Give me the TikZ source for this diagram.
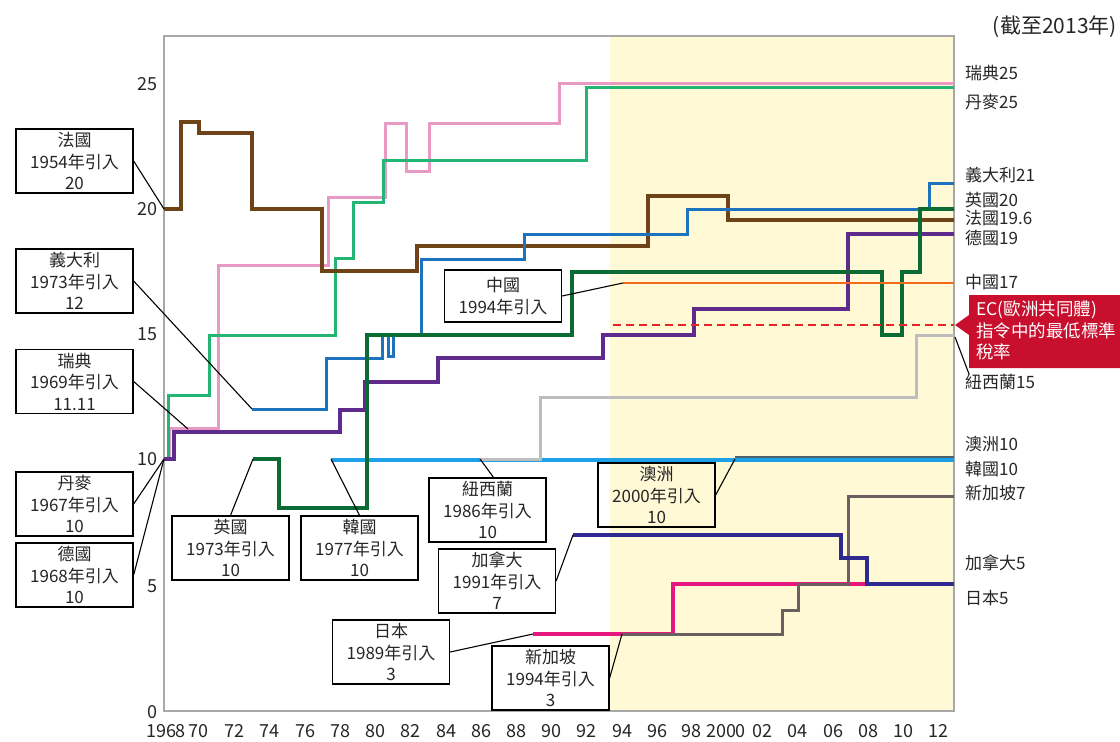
\documentclass[tikz,border=0pt]{standalone}
\usepackage{fontspec}
\setmainfont{Noto Sans CJK TC}
\definecolor{txt}{HTML}{262626}
\definecolor{framegray}{HTML}{A8A8A8}
\definecolor{yellowbg}{HTML}{FFF9D6}
\definecolor{cfr}{HTML}{6E4317}
\definecolor{cit}{HTML}{1E73BE}
\definecolor{cuk}{HTML}{0B6B34}
\definecolor{cde}{HTML}{5E2A8C}
\definecolor{cse}{HTML}{E89AC4}
\definecolor{cdk}{HTML}{22B573}
\definecolor{ccn}{HTML}{F26B1D}
\definecolor{cec}{HTML}{E3262A}
\definecolor{cnz}{HTML}{BDBDBD}
\definecolor{ckr}{HTML}{1EA0E6}
\definecolor{cau}{HTML}{4F6272}
\definecolor{cca}{HTML}{2E2A8F}
\definecolor{cjp}{HTML}{E6177F}
\definecolor{csg}{HTML}{6A6060}
\definecolor{ecred}{HTML}{C8102E}
\begin{document}
\begin{tikzpicture}[x=1pt,y=-1pt,
  ser/.style={line join=miter, line cap=butt},
  cbox/.style={draw=black, line width=1.3pt, fill=white, minimum width=117pt, minimum height=64pt, inner sep=0pt, align=center, font=\fontsize{17}{21.5}\selectfont, text=txt},
  conn/.style={draw=black, line width=1.1pt},
  rlab/.style={anchor=west, font=\fontsize{17}{20}\selectfont, text=txt, inner sep=0pt},
  ytk/.style={anchor=east, font=\fontsize{18}{20}\selectfont, text=txt, inner sep=0pt},
  xtk/.style={anchor=center, font=\fontsize{18}{20}\selectfont, text=txt, inner sep=0pt}]
\useasboundingbox (0,0) rectangle (1120,742);
% shaded region and frame
\fill[yellowbg] (610,36) rectangle (954,711);
\draw[framegray, line width=1.5pt] (164,36) rectangle (954,711);
% axis labels
\node[ytk] (y25) at (158,84) {25};
\node[ytk] (y20) at (158,209) {20};
\node[ytk] (y15) at (158,334) {15};
\node[ytk] (y10) at (158,459) {10};
\node[ytk] (y5) at (158,586) {5};
\node[ytk] (y0) at (158,712) {0};
\foreach \x/\t [count=\i] in {166/1968,198/70,234/72,269/74,305/76,340/78,375/80,410/82,446/84,481/86,516/88,551/90,586/92,622/94,657/96,691/98,726/2000,762/02,797/04,833/06,868/08,903/10,938/12}
  \node[xtk] (xt\i) at (\x,731) {\t};
% series
\draw[ser, ckr, line width=3.5pt] (331,460) -- (954,460);
\draw[ser, cnz, line width=3pt] (480,459) -- (540,459) -- (540,397) -- (916,397) -- (916,335) -- (954,335);
\draw[ser, cau, line width=2.2pt] (735,457) -- (954,457);
\draw[ser, cse, line width=3pt] (164,459) -- (169,459) -- (169,428) -- (218,428) -- (218,265) -- (328,265) -- (328,197) -- (385,197) -- (385,123) -- (406,123) -- (406,171) -- (429,171) -- (429,123) -- (559,123) -- (559,83) -- (954,83);
\draw[ser, cdk, line width=3pt] (164,459) -- (168,459) -- (168,395) -- (209,395) -- (209,335) -- (335,335) -- (335,258) -- (353,258) -- (353,202) -- (383,202) -- (383,160) -- (586,160) -- (586,87) -- (954,87);
\draw[ser, cfr, line width=3.5pt] (164,209) -- (181,209) -- (181,122) -- (199,122) -- (199,133) -- (252,133) -- (252,209) -- (322,209) -- (322,271) -- (417,271) -- (417,246) -- (648,246) -- (648,196) -- (728,196) -- (728,220) -- (954,220);
\draw[ser, cit, line width=3pt] (252,409) -- (326,409) -- (326,358) -- (382,358) -- (382,335) -- (388,335) -- (388,356) -- (393,356) -- (393,335) -- (421,335) -- (421,259) -- (524,259) -- (524,234) -- (687,234) -- (687,209) -- (929,209) -- (929,183) -- (954,183);
\draw[ser, cde, line width=4.5pt] (164,459) -- (174,459) -- (174,432) -- (340,432) -- (340,410) -- (365,410) -- (365,382) -- (438,382) -- (438,358) -- (603,358) -- (603,335) -- (694,335) -- (694,309) -- (848,309) -- (848,234) -- (954,234);
\draw[ser, cuk, line width=4.5pt] (253,459) -- (279,459) -- (279,508) -- (367,508) -- (367,335) -- (572,335) -- (572,272) -- (882,272) -- (882,335) -- (902,335) -- (902,272) -- (920,272) -- (920,209) -- (954,209);
\draw[ser, cjp, line width=4.5pt] (533,634) -- (673,634) -- (673,584) -- (867,584);
\draw[ser, csg, line width=3pt] (622,634) -- (782,634) -- (782,610) -- (798,610) -- (798,584) -- (848,584) -- (848,496) -- (954,496);
\draw[ser, cca, line width=3.2pt] (573,535) -- (841,535) -- (841,558) -- (867,558) -- (867,584) -- (954,584);
\draw[ser, ccn, line width=2.5pt] (623,283) -- (954,283);
\draw[ser, cec, line width=2.8pt, dash pattern=on 8pt off 5pt] (613,325) -- (954,325);
% anchor points on the series
\coordinate (pfr) at (164,209);
\coordinate (pit) at (252,409);
\coordinate (pse) at (188,429);
\coordinate (pdk) at (164,459);
\coordinate (pde) at (164,459);
\coordinate (puk) at (253,459);
\coordinate (pkr) at (331,459);
\coordinate (pjp) at (533,634);
\coordinate (pnz) at (480,459);
\coordinate (pca) at (573,535);
\coordinate (psg) at (622,634);
\coordinate (pau) at (735,459);
\coordinate (pcn) at (623,283);
\coordinate (pnzend) at (955,337);
% callout boxes
\node[cbox] (bfr) at (74.5,161) {法國\\1954年引入\\20};
\node[cbox] (bit) at (74.5,281) {義大利\\1973年引入\\12};
\node[cbox] (bse) at (74.5,381.5) {瑞典\\1969年引入\\11.11};
\node[cbox] (bdk) at (74.5,504) {丹麥\\1967年引入\\10};
\node[cbox] (bde) at (74.5,575) {德國\\1968年引入\\10};
\node[cbox] (buk) at (230.5,548) {英國\\1973年引入\\10};
\node[cbox] (bkr) at (359.5,548) {韓國\\1977年引入\\10};
\node[cbox] (bjp) at (391,652) {日本\\1989年引入\\3};
\node[cbox] (bnz) at (487.5,510) {紐西蘭\\1986年引入\\10};
\node[cbox] (bca) at (497,581) {加拿大\\1991年引入\\7};
\node[cbox] (bsg) at (550.5,678) {新加坡\\1994年引入\\3};
\node[cbox, fill=none] (bau) at (656.5,495) {澳洲\\2000年引入\\10};
\node[cbox, minimum height=52pt] (bcn) at (503,296) {中國\\1994年引入};
% connectors
\draw[conn] (bfr.east) -- (pfr);
\draw[conn] (bit.east) -- (pit);
\draw[conn] (bse.east) -- (pse);
\draw[conn] (bdk.east) -- (pdk);
\draw[conn] (bde.east) -- (pde);
\draw[conn] (buk.north) -- (puk);
\draw[conn] (bkr.north) -- (pkr);
\draw[conn] (bjp.east) -- (pjp);
\draw[conn] ([xshift=6pt]bnz.north) -- (pnz);
\draw[conn] (bca.east) -- (pca);
\draw[conn] (bsg.east) -- (psg);
\draw[conn] (bau.east) -- (pau);
\draw[conn] (bcn.east) -- (pcn);
% right labels
\node[rlab] (lse) at (965,73) {瑞典25};
\node[rlab] (ldk) at (965,102) {丹麥25};
\node[rlab] (lit) at (965,175) {義大利21};
\node[rlab] (luk) at (965,200) {英國20};
\node[rlab] (lfr) at (965,218) {法國19.6};
\node[rlab] (lde) at (965,238) {德國19};
\node[rlab] (lcn) at (965,282) {中國17};
\node[rlab] (lnz) at (965,382) {紐西蘭15};
\node[rlab] (lau) at (965,444) {澳洲10};
\node[rlab] (lkr) at (965,469) {韓國10};
\node[rlab] (lsg) at (965,493) {新加坡7};
\node[rlab] (lca) at (965,563) {加拿大5};
\node[rlab] (ljp) at (965,598) {日本5};
\draw[conn] (pnzend) -- ([xshift=4pt]lnz.north west);
% EC callout
\fill[ecred] (969,295) -- (1120,295) -- (1120,368) -- (969,368) -- (969,335) -- (955,325) -- (969,315) -- cycle;
\node[anchor=north west, inner sep=0pt, align=left, text=white, font=\fontsize{17.5}{21.5}\selectfont] (ec) at (976,301) {EC(歐洲共同體)\\指令中的最低標準\\稅率};
% note
\node[anchor=east, inner sep=0pt, text=txt, font=\fontsize{21}{24}\selectfont] (note) at (1117,27) {(截至2013年)};
\end{tikzpicture}
\end{document}
